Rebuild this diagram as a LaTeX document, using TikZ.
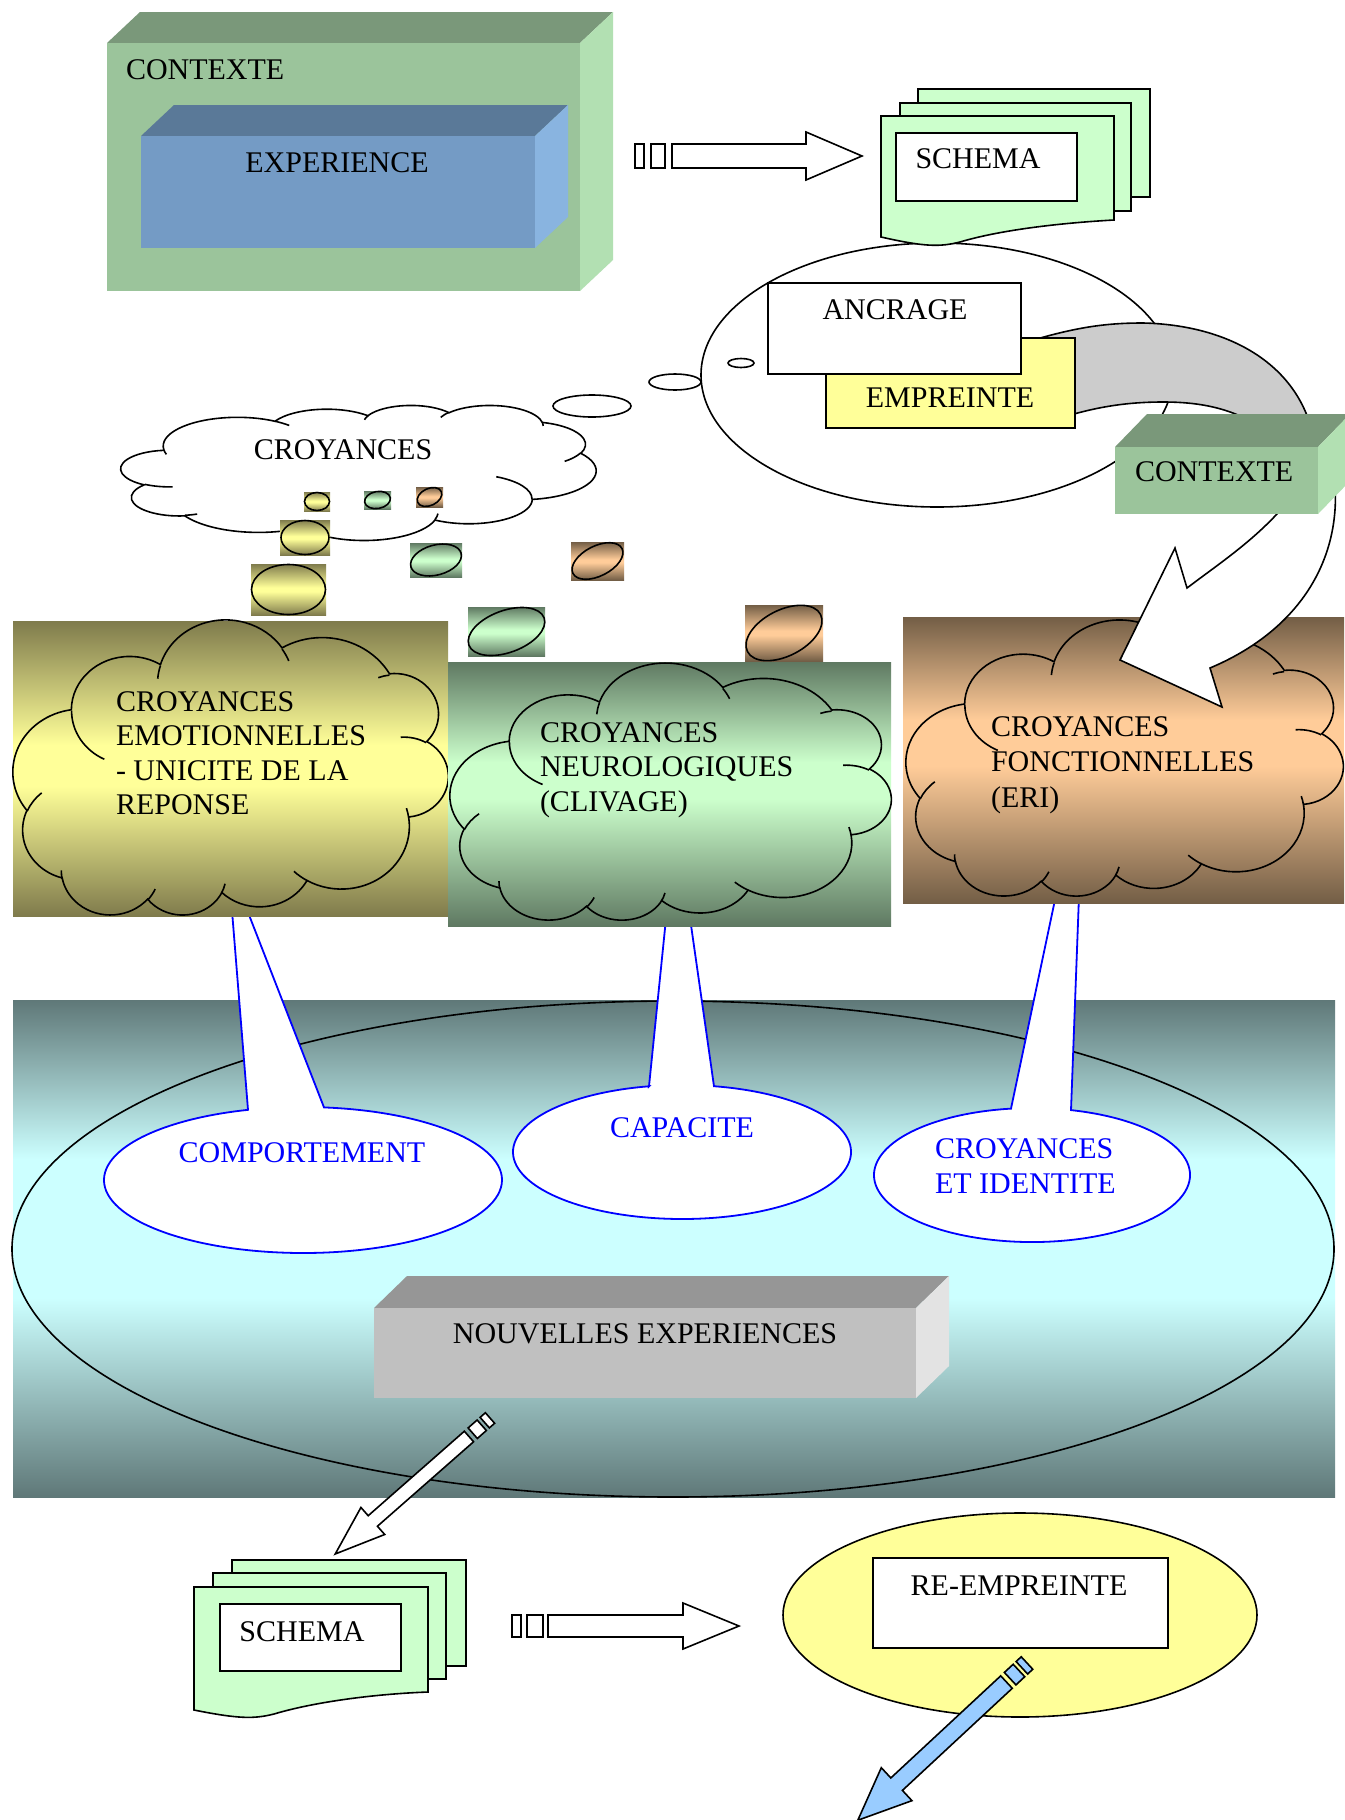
\documentclass[tikz,border=0pt]{standalone}
\usepackage{fontspec}
\setmainfont{Liberation Serif}
\definecolor{gTop}{RGB}{122,152,122}
\definecolor{gFront}{RGB}{155,196,155}
\definecolor{gSide}{RGB}{178,224,178}
\definecolor{bTop}{RGB}{90,121,152}
\definecolor{bFront}{RGB}{116,155,197}
\definecolor{bSide}{RGB}{137,180,224}
\definecolor{nTop}{RGB}{150,150,150}
\definecolor{nFront}{RGB}{192,192,192}
\definecolor{nSide}{RGB}{227,227,227}
\definecolor{yDark}{RGB}{127,123,76}
\definecolor{yLight}{RGB}{255,255,153}
\definecolor{vDark}{RGB}{95,121,98}
\definecolor{vLight}{RGB}{204,255,204}
\definecolor{oDark}{RGB}{115,94,70}
\definecolor{oLight}{RGB}{255,204,153}
\definecolor{tDark}{RGB}{95,120,120}
\definecolor{tLight}{RGB}{204,255,255}
\definecolor{docGreen}{RGB}{204,255,204}
\definecolor{paleYellow}{RGB}{255,255,153}
\definecolor{bandGray}{RGB}{204,204,204}
\definecolor{arrowBlue}{RGB}{153,204,255}
\pgfdeclareverticalshading{tealV}{100bp}{color(0bp)=(tDark); color(25bp)=(tDark); color(45bp)=(tLight); color(59bp)=(tLight); color(75bp)=(tDark); color(100bp)=(tDark)}
\pgfdeclareverticalshading{yelV}{100bp}{color(0bp)=(yDark); color(25bp)=(yDark); color(47bp)=(yLight); color(54bp)=(yLight); color(75bp)=(yDark); color(100bp)=(yDark)}
\pgfdeclareverticalshading{grnV}{100bp}{color(0bp)=(vDark); color(25bp)=(vDark); color(49bp)=(vLight); color(56bp)=(vLight); color(75bp)=(vDark); color(100bp)=(vDark)}
\pgfdeclareverticalshading{brnV}{100bp}{color(0bp)=(oDark); color(25bp)=(oDark); color(49bp)=(oLight); color(57bp)=(oLight); color(75bp)=(oDark); color(100bp)=(oDark)}
\pgfdeclareverticalshading{yelS}{100bp}{color(0bp)=(yDark); color(25bp)=(yDark); color(48bp)=(yLight); color(52bp)=(yLight); color(75bp)=(yDark); color(100bp)=(yDark)}
\pgfdeclareverticalshading{grnS}{100bp}{color(0bp)=(vDark); color(25bp)=(vDark); color(48bp)=(vLight); color(52bp)=(vLight); color(75bp)=(vDark); color(100bp)=(vDark)}
\pgfdeclareverticalshading{brnS}{100bp}{color(0bp)=(oDark); color(25bp)=(oDark); color(48bp)=(oLight); color(52bp)=(oLight); color(75bp)=(oDark); color(100bp)=(oDark)}
\tikzset{
  txt/.style={font=\fontsize{15}{18}\selectfont, inner sep=0pt, outer sep=0pt},
  ol/.style={draw=black, line width=0.8pt},
  bl/.style={draw=blue, line width=0.9pt},
  cloudp/.style={insert path={(39.00,143.70)
    arc[start angle=172.25, delta angle=128.11, x radius=67.53, y radius=91.90]
    arc[start angle=-152.03, delta angle=106.60, x radius=53.33, y radius=72.67]
    arc[start angle=-153.49, delta angle=116.14, x radius=43.65, y radius=59.45]
    arc[start angle=-139.70, delta angle=129.49, x radius=48.57, y radius=65.95]
    arc[start angle=-74.77, delta angle=97.98, x radius=53.33, y radius=72.73]
    arc[start angle=-37.55, delta angle=119.41, x radius=67.75, y radius=92.20]
    arc[start angle=0.46, delta angle=121.52, x radius=57.85, y radius=78.67]
    arc[start angle=16.84, delta angle=129.40, x radius=67.52, y radius=92.15]
    arc[start angle=58.98, delta angle=91.22, x radius=77.20, y radius=105.43]
    arc[start angle=83.31, delta angle=139.78, x radius=43.60, y radius=59.18]
    arc[start angle=120.36, delta angle=143.75, x radius=43.45, y radius=59.45] -- cycle}},
  cloudst/.style={insert path={
    (46.93,261.77) arc[start angle=85.55, delta angle=34.81, x radius=43.45, y radius=59.45]
    (69.28,348.99) arc[start angle=68.24, delta angle=15.07, x radius=43.60, y radius=59.18]
    (164.78,390.90) arc[start angle=146.24, delta angle=12.23, x radius=67.52, y radius=92.15]
    (288.27,347.51) arc[start angle=4.74, delta angle=12.10, x radius=67.52, y radius=92.15]
    (341.29,229.54) arc[start angle=-64.03, delta angle=64.49, x radius=57.85, y radius=78.67]
    (417.98,153.54) arc[start angle=23.21, delta angle=26.44, x radius=53.33, y radius=72.73]
    (383.24,54.26) arc[start angle=-10.21, delta angle=11.03, x radius=48.57, y radius=65.95]
    (290.78,39.52) arc[start angle=-156.29, delta angle=16.59, x radius=48.57, y radius=65.95]
    (221.41,47.20) arc[start angle=-167.72, delta angle=14.23, x radius=43.65, y radius=59.45]
    (140.00,51.92) arc[start angle=-59.64, delta angle=13.91, x radius=67.53, y radius=91.90]
    (41.27,157.89) arc[start angle=163.19, delta angle=9.07, x radius=67.53, y radius=91.90]}}
}
\begin{document}
\begin{tikzpicture}[x=0.5pt,y=-0.5pt]
\useasboundingbox (0,0) rectangle (1344,1820);
\fill[white] (0,0) rectangle (1344,1820);

% ---------- lower region ----------
\shade[shading=tealV] (13,1000) rectangle (1335,1497);
\draw[ol] (673,1249) ellipse [x radius=661, y radius=248];

\fill[nTop] (374,1308) -- (407,1276) -- (949,1276) -- (916,1308) -- cycle;
\fill[nSide] (916,1308) -- (949,1276) -- (949,1366) -- (916,1398) -- cycle;
\fill[nFront] (374,1308) rectangle (916,1398);
\node[txt, anchor=base] (nouv) at (645,1343) {NOUVELLES EXPERIENCES};

% callouts
\draw[bl, fill=white] (248,1109.8) -- (228,861) -- (324,1107.4) arc[start angle=-83.94, delta angle=337.89, x radius=199, y radius=73] -- cycle;
\node[txt, text=blue, anchor=base] (comp) at (302,1162) {COMPORTEMENT};
\draw[bl, fill=white] (649,1086.3) -- (676,820) -- (714,1086.2) arc[start angle=-79.09, delta angle=337.83, x radius=169, y radius=67] -- cycle;
\node[txt, text=blue, anchor=base] (capa) at (682,1137) {CAPACITE};
\draw[bl, fill=white] (1011,1108.6) -- (1084,762) -- (1071,1110.1) arc[start angle=-75.71, delta angle=338.07, x radius=158, y radius=67] -- cycle;
\node[txt, text=blue, anchor=base west] (ci1) at (935,1158) {CROYANCES};
\node[txt, text=blue, anchor=base west] (ci2) at (935,1193) {ET IDENTITE};

% ---------- three belief boxes (clouds turned 180 degrees) ----------
\shade[shading=yelV] (13,621) rectangle (448,916);
\begin{scope}[shift={(448,916)}, xscale=-435/432, yscale=-295/432]
  \draw[ol] [cloudp]; \draw[ol] [cloudst];
\end{scope}
\node[txt, anchor=base west] (emo1) at (116,711) {CROYANCES};
\node[txt, anchor=base west] (emo2) at (116,745) {EMOTIONNELLES};
\node[txt, anchor=base west] (emo3) at (116,780) {- UNICITE DE LA};
\node[txt, anchor=base west] (emo4) at (116,814) {REPONSE};

\shade[shading=grnV] (448,662) rectangle (891,926);
\begin{scope}[shift={(891,921)}, xscale=-441/432, yscale=-257/432]
  \draw[ol] [cloudp]; \draw[ol] [cloudst];
\end{scope}
\node[txt, anchor=base west] (neu1) at (540,742) {CROYANCES};
\node[txt, anchor=base west] (neu2) at (540,776) {NEUROLOGIQUES};
\node[txt, anchor=base west] (neu3) at (540,811) {(CLIVAGE)};

\shade[shading=brnV] (903,617) rectangle (1344,903);
\begin{scope}[shift={(1343,897)}, xscale=-437/432, yscale=-276/432]
  \draw[ol] [cloudp]; \draw[ol] [cloudst];
\end{scope}
\node[txt, anchor=base west] (fon1) at (991,736) {CROYANCES};
\node[txt, anchor=base west] (fon2) at (991,771) {FONCTIONNELLES};
\node[txt, anchor=base west] (fon3) at (991,807) {(ERI)};

% ---------- pencil arrow to lower schema ----------
\begin{scope}[shift={(490,1418)}, rotate=-138.7]
  \draw[ol, fill=white] (0,-7) rectangle (7,7);
  \draw[ol, fill=white] (11,-7) rectangle (23,7);
  \draw[ol, fill=white] (28,-7) -- (156,-7) -- (156,-18) -- (206,0) -- (156,18) -- (156,7) -- (28,7) -- cycle;
\end{scope}

% lower schema
\draw[ol, fill=docGreen] (232,1560) rectangle (466,1666);
\draw[ol, fill=docGreen] (213,1573) rectangle (446,1679);
\draw[ol, fill=docGreen] (194,1587) -- (428,1587) -- (428,1692) .. controls (374,1694) and (314,1702) .. (274,1714) .. controls (254,1719) and (239,1719) .. (194,1710) -- cycle;
\draw[ol, fill=white] (220,1604) rectangle (401,1671);
\node[txt, anchor=base] (schema2) at (302,1641) {SCHEMA};

% lower striped arrow
\draw[ol, fill=white] (512,1615) rectangle (521,1637);
\draw[ol, fill=white] (527,1615) rectangle (543,1637);
\draw[ol, fill=white] (548,1615) -- (683,1615) -- (683,1603) -- (739,1626) -- (683,1649) -- (683,1637) -- (548,1637) -- cycle;

% re-empreinte
\draw[ol, fill=paleYellow] (1020,1615) ellipse [x radius=237, y radius=102];
\draw[ol, fill=white] (873,1558) rectangle (1168,1648);
\node[txt, anchor=base] (reemp) at (1019,1595) {RE-EMPREINTE};
\begin{scope}[shift={(1027,1663)}, rotate=-137.1]
  \draw[ol, fill=arrowBlue] (0,-8.5) rectangle (7,8.5);
  \draw[ol, fill=arrowBlue] (11,-8.5) rectangle (23,8.5);
  \draw[ol, fill=arrowBlue] (28,-8.5) -- (178,-8.5) -- (178,-22.5) -- (231,0) -- (178,22.5) -- (178,8.5) -- (28,8.5) -- cycle;
\end{scope}

% ---------- top: context / experience ----------
\fill[gTop] (107,43) -- (140,12) -- (613,12) -- (580,43) -- cycle;
\fill[gSide] (580,43) -- (613,12) -- (613,260) -- (580,291) -- cycle;
\fill[gFront] (107,43) rectangle (580,291);
\node[txt, anchor=base west] (ctx1) at (126,79) {CONTEXTE};
\fill[bTop] (141,136) -- (174,105) -- (568,105) -- (535,136) -- cycle;
\fill[bSide] (535,136) -- (568,105) -- (568,217) -- (535,248) -- cycle;
\fill[bFront] (141,136) rectangle (535,248);
\node[txt, anchor=base] (exper) at (337,172) {EXPERIENCE};

% top striped arrow
\draw[ol, fill=white] (635,144) rectangle (644,168);
\draw[ol, fill=white] (651,144) rectangle (665,168);
\draw[ol, fill=white] (672,144) -- (806,144) -- (806,132) -- (862,156) -- (806,180) -- (806,168) -- (672,168) -- cycle;

% thought ellipse
\draw[ol, fill=white] (937,375) ellipse [x radius=236, y radius=132];
\draw[ol, fill=white] (675,382) ellipse [x radius=26, y radius=8];
\draw[ol, fill=white] (741,363) ellipse [x radius=13, y radius=4.5];
\draw[ol, fill=white] (592,406) ellipse [x radius=39, y radius=11];

% top schema
\draw[ol, fill=docGreen] (918,89) rectangle (1150,197);
\draw[ol, fill=docGreen] (900,103) rectangle (1131,211);
\draw[ol, fill=docGreen] (881,116) -- (1114,116) -- (1114,220) .. controls (1060,223) and (1000,230) .. (960,242) .. controls (940,247) and (925,247) .. (881,237) -- cycle;
\draw[ol, fill=white] (896,133) rectangle (1077,201);
\node[txt, anchor=base] (schema1) at (978,168) {SCHEMA};

% gray band
\draw[ol, fill=bandGray] (1030,341) .. controls (1080,326) and (1110,323) .. (1143,323) .. controls (1230,325) and (1300,365) .. (1314,440) -- (1268,432) .. controls (1235,408) and (1200,402) .. (1163,402) .. controls (1120,402) and (1090,409) .. (1060,418) -- cycle;

\draw[ol, fill=paleYellow] (826,338) rectangle (1075,428);
\node[txt, anchor=base] (empr) at (950,407) {EMPREINTE};
\draw[ol, fill=white] (768,283) rectangle (1021,374);
\node[txt, anchor=base] (ancr) at (895,319) {ANCRAGE};

% white curved arrow
\draw[ol, fill=white] (1335,485) .. controls (1340,560) and (1300,630) .. (1210,668) -- (1222,707) -- (1120,660) -- (1175,548) -- (1187,588) .. controls (1220,563) and (1255,540) .. (1285,505) -- cycle;

% context box right
\fill[gTop] (1115,447) -- (1147,414) -- (1350,414) -- (1318,447) -- cycle;
\fill[gSide] (1318,447) -- (1350,414) -- (1350,481) -- (1318,514) -- cycle;
\fill[gFront] (1115,447) rectangle (1318,514);
\node[txt, anchor=base west] (ctx2) at (1135,481) {CONTEXTE};

% croyances cloud
\begin{scope}[shift={(121,405)}, xscale=475/432, yscale=135/432]
  \draw[ol, fill=white] [cloudp]; \draw[ol] [cloudst];
\end{scope}
\node[txt, anchor=base] (croy) at (343,459) {CROYANCES};

% tail bubbles
\shade[shading=yelS] (304,492) rectangle (330,511);
\draw[ol] (317,501.5) ellipse [x radius=12.5, y radius=9];
\shade[shading=yelS] (280,520) rectangle (330,555);
\draw[ol] (305,537.5) ellipse [x radius=24, y radius=17];
\shade[shading=yelS] (251,564) rectangle (326,615);
\draw[ol] (288.5,589.5) ellipse [x radius=37, y radius=25];

\shade[shading=grnS] (364,491) rectangle (391,509);
\draw[ol, rotate around={10:(377.5,500)}] (377.5,500) ellipse [x radius=13, y radius=8.5];
\shade[shading=grnS] (410,543) rectangle (462,577);
\draw[ol, rotate around={15:(436,560)}] (436,560) ellipse [x radius=26, y radius=15];
\shade[shading=grnS] (468,607) rectangle (545,656);
\draw[ol, rotate around={20:(506.5,631.5)}] (506.5,631.5) ellipse [x radius=40, y radius=21];

\shade[shading=brnS] (416,487) rectangle (443,507);
\draw[ol, rotate around={25:(429.5,497)}] (429.5,497) ellipse [x radius=13, y radius=8.5];
\shade[shading=brnS] (571,542) rectangle (624,580);
\draw[ol, rotate around={27:(597.5,561)}] (597.5,561) ellipse [x radius=27.5, y radius=15];
\shade[shading=brnS] (745,605) rectangle (823,661);
\draw[ol, rotate around={27:(784,633)}] (784,633) ellipse [x radius=41, y radius=23];
\end{tikzpicture}
\end{document}
